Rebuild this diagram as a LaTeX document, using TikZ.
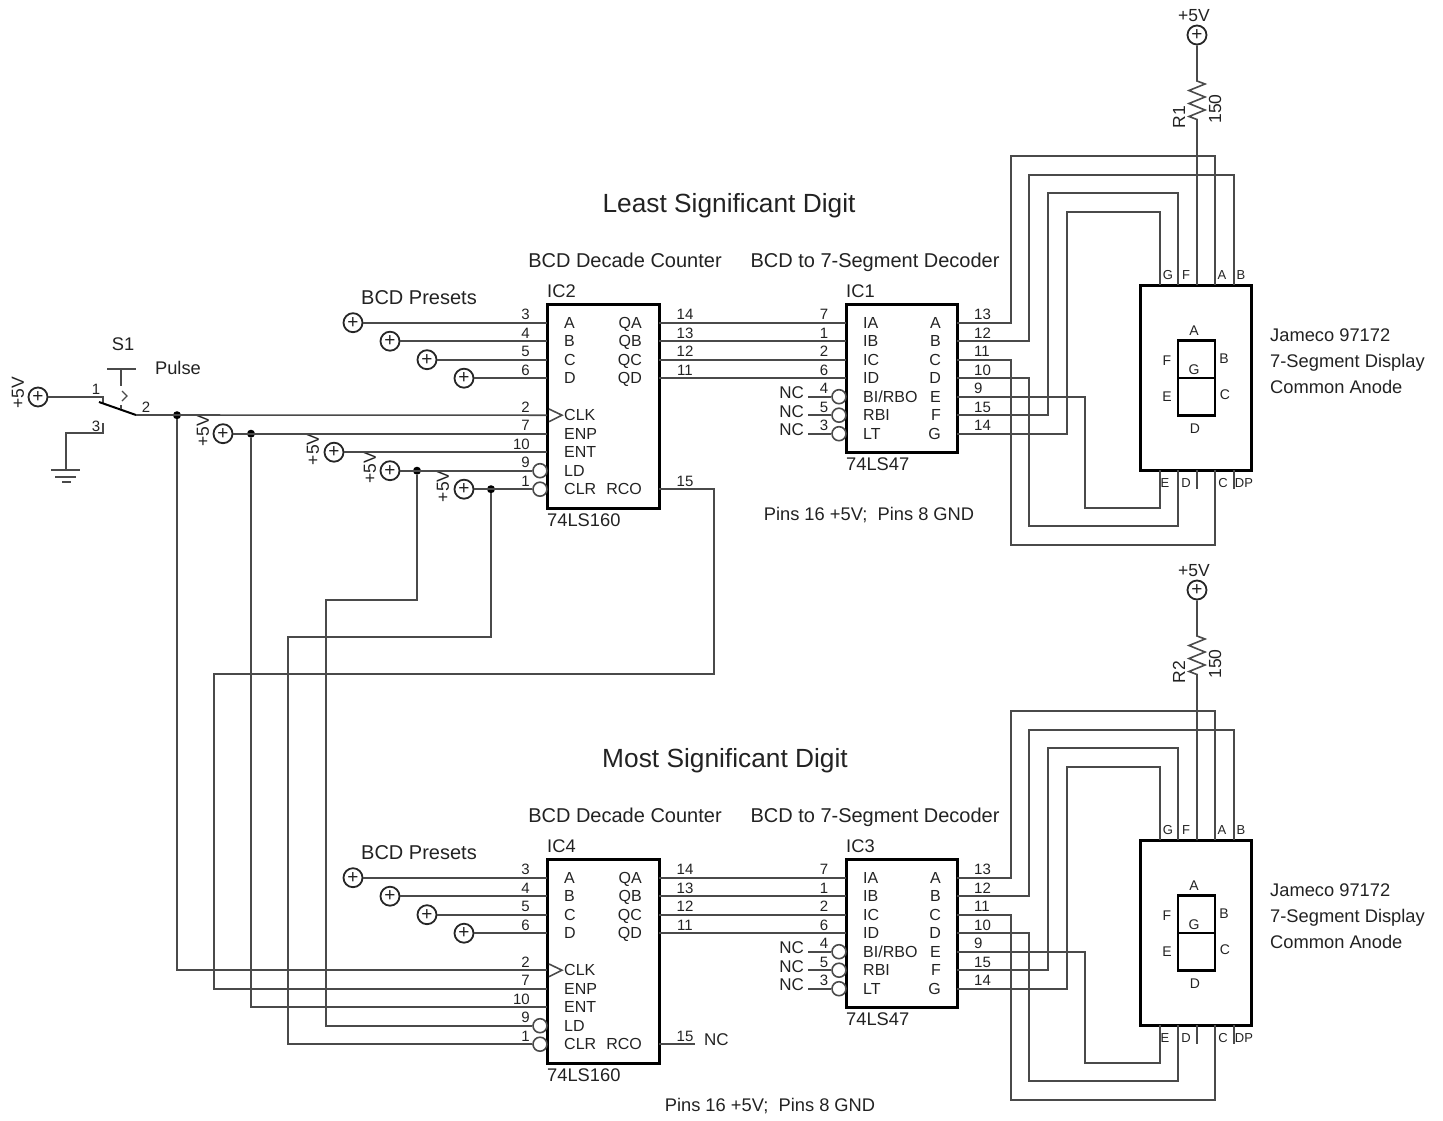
\documentclass[tikz,border=0pt]{standalone}
\usepackage{fontspec}
\setmainfont{Liberation Sans}
\definecolor{wirecol}{HTML}{4A4A4A}
\definecolor{inkcol}{HTML}{222222}
\tikzset{%
  wire/.style={draw=wirecol, line width=1.6pt},
  chip/.style={rectangle, draw=black, line width=3pt, inner sep=0pt},
  segbox/.style={rectangle, draw=black, line width=2.6pt, inner sep=0pt, minimum width=37pt, minimum height=37.5pt},
  supply/.style={circle, draw=black!85, line width=1.8pt, minimum size=19pt, inner sep=0pt, text=inkcol, font=\fontsize{19}{19}\selectfont},
  bubble/.style={circle, draw=wirecol, line width=1.6pt, minimum size=14pt, inner sep=0pt},
  dot/.style={circle, fill=black, minimum size=8pt, inner sep=0pt},
  pintext/.style={inner sep=0pt, text=inkcol, font=\fontsize{16}{16}\selectfont},
  pinnum/.style={inner sep=0pt, text=inkcol, font=\fontsize{15}{15}\selectfont},
  volts/.style={inner sep=0pt, text=inkcol, font=\fontsize{17.5}{17.5}\selectfont},
  tiny/.style={inner sep=0pt, text=inkcol, font=\fontsize{13}{13}\selectfont},
  seglabel/.style={inner sep=0pt, text=inkcol, font=\fontsize{14}{14}\selectfont},
  ncnote/.style={inner sep=0pt, text=inkcol, font=\fontsize{17}{17}\selectfont},
  note/.style={inner sep=0pt, text=inkcol, font=\fontsize{18.3}{18.3}\selectfont},
  heading/.style={inner sep=0pt, text=inkcol, font=\fontsize{20}{20}\selectfont},
  title/.style={inner sep=0pt, text=inkcol, font=\fontsize{26.3}{26.3}\selectfont},
}
\newcommand{\rowy}[1]{\pgfmathsetmacro\py{322.7+18.5*#1}}
% one counter, decoder and display, #1 resistor, #2 counter, #3 decoder
\newcommand{\drawdigit}[3]{%
  \node[heading,anchor=base] (cnthead) at (625,267) {BCD Decade Counter};
  \node[heading,anchor=base] (dechead) at (875,267) {BCD to 7-Segment Decoder};
  \node[heading,anchor=base] (prehead) at (419,304) {BCD Presets};
  % counter
  \node[chip,minimum width=112pt,minimum height=204pt] (cnt) at (603,406) {};
  \node[note,anchor=base west] (cntname) at (547,297) {#2};
  \node[note,anchor=base west] (cnttype) at (547,526) {74LS160};
  \foreach \k/\num/\txt in {0/3/A,1/4/B,2/5/C,3/6/D,5/2/CLK,6/7/ENP,7/10/ENT,8/9/LD,9/1/CLR}{
    \rowy{\k}
    \coordinate (cntl\k) at (547,\py);
    \node[pintext,anchor=base west] (cntlt\k) at (564,\py+5.5) {\txt};
    \node[pinnum,anchor=base east] (cntln\k) at (530,\py-3) {\num};
  }
  \foreach \k/\num/\txt in {0/14/QA,1/13/QB,2/12/QC,3/11/QD,9/15/RCO}{
    \rowy{\k}
    \coordinate (cntr\k) at (659,\py);
    \node[pintext,anchor=base east] (cntrt\k) at (642,\py+5.5) {\txt};
    \node[pinnum,anchor=base] (cntrn\k) at (685,\py-3) {\num};
  }
  \foreach \k in {8,9}{
    \rowy{\k}
    \node[bubble] (bub\k) at (540,\py) {};
  }
  \draw[wire] (549,409) -- (562,415.2) -- (549,421.7);
  % presets
  \foreach \k/\x in {0/353,1/390,2/427,3/464}{
    \rowy{\k}
    \node[supply] (pre\k) at (\x,\py) {+};
    \draw[wire] (pre\k) -- (cntl\k);
  }
  % decoder
  \node[chip,minimum width=111pt,minimum height=148pt] (dec) at (901.5,378) {};
  \node[note,anchor=base west] (decname) at (846,297) {#3};
  \node[note,anchor=base west] (dectype) at (846,470) {74LS47};
  \foreach \k/\num/\txt in {0/7/IA,1/1/IB,2/2/IC,3/6/ID,4/4/{BI/RBO},5/5/RBI,6/3/LT}{
    \rowy{\k}
    \coordinate (decl\k) at (846,\py);
    \node[pintext,anchor=base west] (declt\k) at (863,\py+5.5) {\txt};
    \node[pinnum,anchor=base] (decln\k) at (824,\py-3) {\num};
  }
  \foreach \k in {0,...,3}{
    \draw[wire] (cntr\k) -- (decl\k);
  }
  \foreach \k in {4,5,6}{
    \rowy{\k}
    \node[bubble] (dbub\k) at (839,\py) {};
    \node[ncnote,anchor=base east] (nc\k) at (804,\py+2) {NC};
    \coordinate (ncw\k) at (808,\py);
    \draw[wire] (ncw\k) -- (dbub\k);
  }
  \foreach \k/\num/\txt in {0/13/A,1/12/B,2/11/C,3/10/D,4/9/E,5/15/F,6/14/G}{
    \rowy{\k}
    \coordinate (decr\k) at (957,\py);
    \node[pintext,anchor=base east] (decrt\k) at (941,\py+5.5) {\txt};
    \node[pinnum,anchor=base west] (decrn\k) at (974,\py-3) {\num};
  }
  % display
  \node[chip,minimum width=111pt,minimum height=185pt] (disp) at (1196,377.5) {};
  \node[segbox] (segup) at (1196.5,359.2) {};
  \node[segbox] (seglo) at (1196.5,396.7) {};
  \foreach \s/\x/\y in {A/1194/335,F/1167/365,B/1224/363,G/1194/374,E/1167/401,C/1225/399,D/1195/433}{
    \node[seglabel,anchor=base] (seg\s) at (\x,\y) {\s};
  }
  \foreach \s/\x/\y in {G/1168/279,F/1186/279,A/1222/279,B/1241/279,E/1165/487,D/1186/487,C/1223/487,DP/1244/487}{
    \node[tiny,anchor=base] (lead\s) at (\x,\y) {\s};
  }
  \node[note,anchor=base west] (dispa) at (1270,341) {Jameco 97172};
  \node[note,anchor=base west] (dispb) at (1270,367) {7-Segment Display};
  \node[note,anchor=base west] (dispc) at (1270,393) {Common Anode};
  % decoder to display
  \foreach \k/\vx/\vy/\dx/\dy in {0/1011/156/1215/285,1/1029/175/1234/285,2/1011/545/1215/470,3/1029/526/1178/470,4/1085/508/1160/470,5/1048/193/1178/285,6/1067/212/1160/285}{
    \coordinate (via\k) at (\vx,\vy);
    \coordinate (dp\k) at (\dx,\dy);
    \draw[wire] (decr\k) -| (via\k) -| (dp\k);
  }
  \coordinate (stubc) at (1197,470);
  \coordinate (stubce) at (1197,489);
  \coordinate (stubd) at (1234,470);
  \coordinate (stubde) at (1234,489);
  \draw[wire] (stubc) -- (stubce);
  \draw[wire] (stubd) -- (stubde);
  % common anode
  \node[supply] (vcc) at (1197,35) {+};
  \node[volts,anchor=base] (vcctxt) at (1194,21) {+5V};
  \coordinate (rtop) at (1197,81);
  \coordinate (anode) at (1197,285);
  \draw[wire] (vcc) -- (rtop) -- ++(8,3) -- ++(-16,6.5) -- ++(16,6.5) -- ++(-16,6.5)
    -- ++(16,6.5) -- ++(-16,6.5) -- ++(8,3) -- (anode);
  \node[volts,rotate=90] (rname) at (1179,117) {#1};
  \node[volts,rotate=90] (rval) at (1215,109) {150};
}

\begin{document}
\begin{tikzpicture}[x=1pt,y=-1pt]
  \useasboundingbox (0,0) rectangle (1443,1120);
  \begin{scope}[name prefix=lsd-]
    \drawdigit{R1}{IC2}{IC1}
  \end{scope}
  \begin{scope}[shift={(0,555)},name prefix=msd-]
    \drawdigit{R2}{IC4}{IC3}
  \end{scope}
  \node[title,anchor=base] (lsdtitle) at (729,212) {Least Significant Digit};
  \node[title,anchor=base] (msdtitle) at (725,767) {Most Significant Digit};
  \node[note,anchor=base] (lsdpins) at (869,520) {Pins 16 +5V;\ \ Pins 8 GND};
  \node[note,anchor=base] (msdpins) at (770,1111) {Pins 16 +5V;\ \ Pins 8 GND};
  % switch
  \node[supply] (vccsw) at (38,397) {+};
  \coordinate (swone) at (95,397);
  \coordinate (swbladea) at (99,402);
  \coordinate (swbladeb) at (136,415);
  \coordinate (swthree) at (103,433);
  \draw[wire] (vccsw) -- (swone) -- (103,397) -- (103,403);
  \draw[draw=black,line width=2pt] (swbladea) -- (swbladeb);
  \draw[wire] (103,423) -- (swthree) -- (66,433) -- (66,470);
  \draw[wire] (51,470) -- (80,470);
  \draw[wire] (55,477) -- (76,477);
  \draw[wire] (62,482) -- (71,482);
  \draw[wire] (107,369) -- (136,369);
  \draw[wire,line width=1.2pt] (121,369) -- (121,383);
  \draw[wire,line width=1.2pt,dashed] (121,383) -- (121,388);
  \draw[wire,line width=1.2pt] (122,391) -- (127,396) -- (122,401);
  \draw[wire,line width=1.2pt] (121,405) -- (121,409);
  \node[pinnum,anchor=base] (swn1) at (96,394) {1};
  \node[pinnum,anchor=base] (swn2) at (146,412) {2};
  \node[pinnum,anchor=base] (swn3) at (96,431) {3};
  \node[note,anchor=base] (swname) at (123,350) {S1};
  \node[note,anchor=base] (swtxt) at (178,374) {Pulse};
  % +5V on the counter pins
  \foreach \n/\x/\y/\lx in {b/223/433.7/203,c/334/452.2/313,d/390/470.7/370,e/464/489.2/443}{
    \node[supply] (vcc\n) at (\x,\y) {+};
    \node[volts,rotate=90] (vcct\n) at (\lx,\y-3) {+5V};
  }
  \node[volts,rotate=90] (vcctsw) at (18,393) {+5V};
  \node[dot] (jclk) at (177,415.2) {};
  \node[dot] (jent) at (251,433.7) {};
  \node[dot] (jld) at (417,470.7) {};
  \node[dot] (jclr) at (491,489.2) {};
  \draw[wire] (swbladeb) -- (lsd-cntl5);
  \draw[wire] (vccb) -- (lsd-cntl6);
  \draw[wire] (vccc) -- (lsd-cntl7);
  \draw[wire] (vccd) -- (lsd-bub8);
  \draw[wire] (vcce) -- (lsd-bub9);
  % from the upper counter down to the lower one
  \coordinate (ldvia) at (326,600);
  \coordinate (clrvia) at (288,637);
  \coordinate (rcovia) at (214,674);
  \coordinate (rcoout) at (714,489.2);
  \draw[wire] (jclk) |- (msd-cntl5);
  \draw[wire] (jent) |- (msd-cntl7);
  \draw[wire] (jld) |- (ldvia) |- (msd-bub8);
  \draw[wire] (jclr) |- (clrvia) |- (msd-bub9);
  \draw[wire] (lsd-cntr9) -- (rcoout) |- (rcovia) |- (msd-cntl6);
  % lower carry is not connected
  \coordinate (rcoend) at (695,1044.2);
  \draw[wire] (msd-cntr9) -- (rcoend);
  \node[ncnote,anchor=base west] (rconc) at (704,1045) {NC};
\end{tikzpicture}
\end{document}
